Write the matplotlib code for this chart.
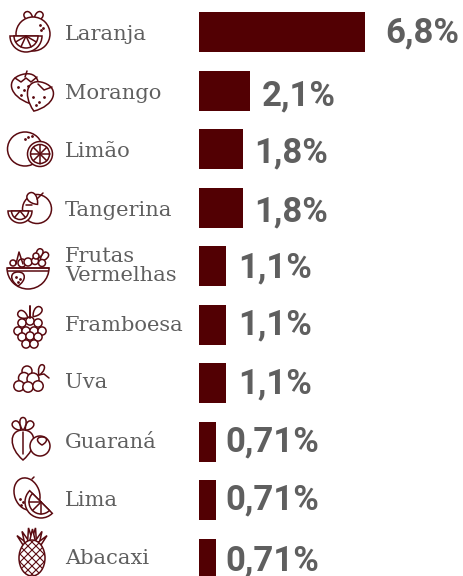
import matplotlib
matplotlib.use('Agg')
import matplotlib.pyplot as plt
import numpy as np
from matplotlib.patches import Circle, Ellipse, Wedge, Polygon, PathPatch
from matplotlib.path import Path

frutas = ['Laranja', 'Morango', 'Limão', 'Tangerina', 'Frutas\nVermelhas', 'Framboesa', 'Uva', 'Guaraná', 'Lima', 'Abacaxi']
valores = [6.8, 2.1, 1.8, 1.8, 1.1, 1.1, 1.1, 0.71, 0.71, 0.71]
rotulos = ['6,8%', '2,1%', '1,8%', '1,8%', '1,1%', '1,1%', '1,1%', '0,71%', '0,71%', '0,71%']

VINHO = '#520003'
LINHA = '#5a0a10'
CINZA = '#5f5f5f'
W, H = 463, 576
PX_UNIT = 24.41   # pixels por ponto percentual
PITCH = 58.5

fig = plt.figure(figsize=(W / 100, H / 100), dpi=100)
ax = fig.add_axes([0, 0, 1, 1])
ax.barh(range(len(frutas)), valores, height=40 / PITCH, color=VINHO)
ax.set_xlim(-199 / PX_UNIT, (W - 199) / PX_UNIT)
ax.set_ylim((H - 32) / PITCH, -32 / PITCH)
ax.axis('off')

# ajustes finos em pontos (o original nao e regular)
off_nome = [-1.7, -2, -1.5, -2, 0, -1, 0.7, -0.8, -0.2, -0.3]
off_valor = [14.5, 8.3, 8.2, 8.2, 9.2, 9.2, 9.2, 6.4, 6.6, 6.6]
off_valor_y = [-1, -4, -3, -3, -1.3, -0.3, -1, -0.3, 0, -2]
for i, (nome, v, r) in enumerate(zip(frutas, valores, rotulos)):
    ax.annotate(nome, (0, i), xytext=(-96.4, off_nome[i]), textcoords='offset points',
                ha='left', va='center', family='DejaVu Serif', fontsize=15.1,
                color=CINZA, linespacing=1.02)
    ax.annotate(r, (v, i), xytext=(off_valor[i], off_valor_y[i]), textcoords='offset points',
                ha='left', va='center', family='Roboto', fontweight='bold', fontsize=25, color=CINZA)

# icones desenhados em pixels da imagem
ic = fig.add_axes([0, 0, 1, 1])
ic.set_xlim(0, W)
ic.set_ylim(H, 0)
ic.axis('off')
ic.patch.set_alpha(0)
LW = 1.1
st = dict(edgecolor=LINHA, facecolor='white', linewidth=LW)


def circ(x, y, r):
    p = Circle((x, y), r, **st)
    ic.add_patch(p)
    return p


def ell(x, y, w, h, a=0):
    p = Ellipse((x, y), w, h, angle=a, **st)
    ic.add_patch(p)
    return p


def seg(pts, lw=LW):
    pts = np.array(pts)
    ic.plot(pts[:, 0], pts[:, 1], color=LINHA, lw=lw, solid_capstyle='round')


def meia(x, y, r, a1=0, a2=180):
    ic.add_patch(Wedge((x, y), r, a1, a2, **st))


def raios(x, y, r, angs):
    for a in angs:
        seg([(x, y), (x + r * np.cos(np.radians(a)), y + r * np.sin(np.radians(a)))])


def gota(x, y, w, h, a=0):
    # morango / folha: largo em cima, ponta em baixo
    c = np.array([(0, -h / 2), (w * .6, -h / 2), (w * .6, h * .1), (0, h / 2),
                  (-w * .6, h * .1), (-w * .6, -h / 2), (0, -h / 2)])
    t = np.radians(a)
    c = c @ np.array([[np.cos(t), np.sin(t)], [-np.sin(t), np.cos(t)]]) + (x, y)
    p = Path(c, [Path.MOVETO] + [Path.CURVE4] * 6)
    ic.add_patch(PathPatch(p, **st))


def pontos(pts):
    pts = np.array(pts)
    ic.plot(pts[:, 0], pts[:, 1], ls='', marker='o', ms=1.0, color=LINHA)


# laranja
gota(29, 17, 8, 12, -40)
gota(38, 17, 8, 12, 40)
circ(33, 34, 17)
pontos([(40, 25), (43, 28), (41, 30)])
meia(26, 36, 16)
meia(26, 36, 12)
raios(26, 36, 12, [30, 65, 115, 150])

# morango
gota(26, 89, 30, 30, -15)
seg([(25, 77), (27, 71)])
seg([(15, 78), (21, 82), (26, 78), (31, 82), (37, 77)])
pontos([(18, 87), (24, 90), (21, 95), (28, 86)])
gota(39, 97, 29, 30, 20)
seg([(38, 84), (44, 90), (52, 87)])
pontos([(33, 97), (39, 102), (36, 105), (44, 97)])

# limao
ell(25, 149, 35, 34)
pontos([(28, 137), (32, 136), (25, 139)])
circ(40, 154, 12.5)
circ(40, 154, 9.5)
raios(40, 154, 9.5, [0, 45, 90, 135, 180, 225, 270, 315])

# tangerina
circ(37, 209, 14.5)
gota(33, 199, 10, 14, -40)
seg([(37, 199), (43, 193)])
seg([(26, 205), (32, 205)])
meia(20, 211, 12)
meia(20, 211, 8.5)
raios(20, 211, 8.5, [50, 130])

# frutas vermelhas
gota(44, 257, 7, 11, 40)
gota(39, 254, 7, 11, 25)
seg([(16, 264), (19, 252), (23, 264)])
for x, y, r in [(13, 263, 3), (22, 263, 4), (28, 262, 4), (35, 261, 3.5), (42, 263, 3.5), (36, 256, 3)]:
    circ(x, y, r)
meia(28, 268, 21)
seg([(8, 268), (49, 268)])
seg([(8, 271), (48, 271)])
gota(18, 279, 14, 14, 0)
pontos([(16, 277), (20, 279), (18, 282)])

# framboesa
for x, y in [(22, 323), (30, 321), (38, 323), (18, 331), (26, 331), (34, 331), (42, 331),
             (22, 337), (30, 336), (38, 337), (26, 344), (34, 344)]:
    circ(x, y, 4.1)
gota(23, 315, 8, 11, -60)
gota(37, 312, 8, 12, 40)
seg([(30, 306), (30, 318)], 1.4)

# uva
for x, y, r in [(27, 371, 5), (24, 378, 5.5), (33, 379, 6), (19, 386, 5.2), (28, 387, 5.2), (38, 386, 5.2)]:
    circ(x, y, r)
seg([(38, 375), (44, 374), (49, 378)])
gota(41, 370, 6, 11, 20)

# guarana
gota(17, 426, 8, 11, -40)
gota(29, 426, 8, 11, 40)
gota(23, 424, 7, 13, 0)
gota(23, 445, 24, 30, 0)
seg([(23, 432), (23, 454)])
circ(40, 446, 10)
gota(42, 441, 10, 8, 0)

# lima
ell(27, 494, 25, 33, -20)
seg([(32, 479), (34, 477)])
pontos([(20, 499), (23, 502), (21, 505)])
meia(41, 502, 16, 45, 225)
meia(41, 502, 12, 45, 225)
raios(41, 502, 12, [90, 135, 180])

# abacaxi
for dx, h, lean in [(-12, 14, -6), (-8, 17, -4), (-3, 19, -1), (3, 19, 1), (8, 17, 4), (12, 14, 6)]:
    ic.add_patch(Polygon([(32 + dx * .4 - 3.5, 546), (32 + dx + lean * .5, 546 - h + abs(dx) * .3), (32 + dx * .4 + 3.5, 546)], closed=True, **st))
ic.add_patch(Polygon([(28.5, 546), (32.5, 529), (36.5, 546)], closed=True, **st))
corpo = ell(32, 558, 26, 36)
for k in range(-6, 7):
    for sinal in (1, -1):
        ln, = ic.plot([12, 52], [558 + k * 8 - sinal * 20, 558 + k * 8 + sinal * 20], color=LINHA, lw=0.8)
        ln.set_clip_path(corpo)

fig.savefig('out.png', dpi=100, facecolor='white')
